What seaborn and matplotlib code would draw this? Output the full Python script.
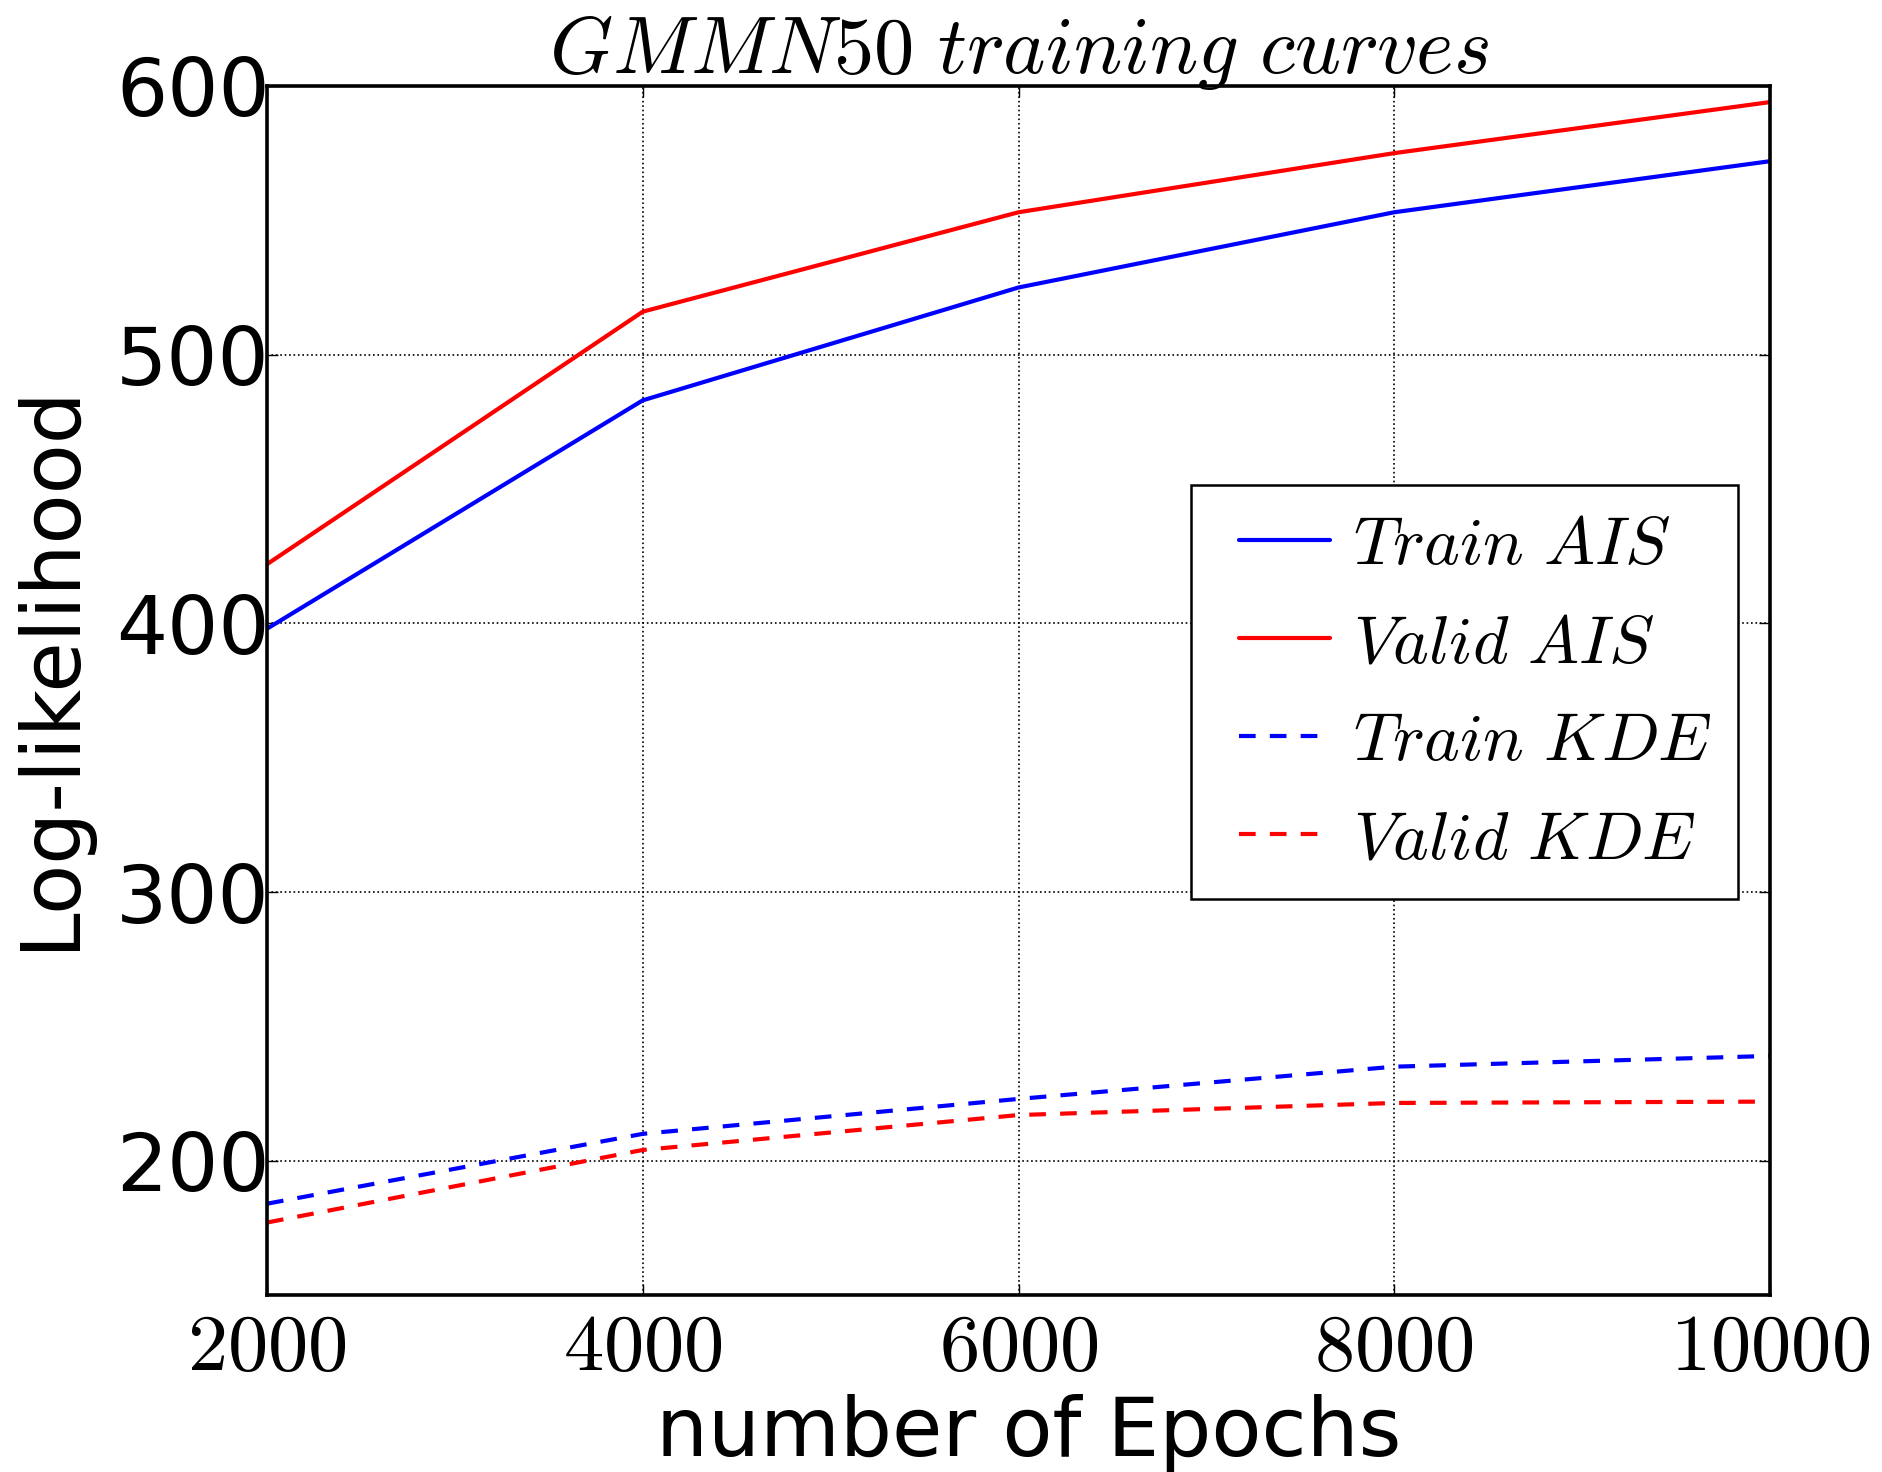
import matplotlib
matplotlib.use("Agg")
import matplotlib.pyplot as plt
import seaborn as sns
import pandas as pd
import numpy as np
from matplotlib.ticker import FuncFormatter
from matplotlib.legend_handler import HandlerLine2D
from matplotlib.lines import Line2D

epochs = [2000, 4000, 6000, 8000, 10000]
train_ais = [398, 483, 525, 553, 572]
valid_ais = [422, 516, 553, 575, 594]
train_kde = [184, 210, 223, 235, 239]
valid_kde = [177, 204, 217, 221.5, 222]
series_labels = [r"$Train\ AIS$", r"$Valid\ AIS$", r"$Train\ KDE$", r"$Valid\ KDE$"]
y_ticks = [200, 300, 400, 500, 600]

sns.set_style("white")
plt.rcParams["font.family"] = ["DejaVu Sans"]
plt.rcParams["mathtext.fontset"] = "cm"
plt.rcParams["text.color"] = "black"
plt.rcParams["axes.labelcolor"] = "black"
plt.rcParams["xtick.color"] = "black"
plt.rcParams["ytick.color"] = "black"


class ShiftedLineHandler(HandlerLine2D):
    """Draw the legend line in the right part of the handle box."""
    def create_artists(self, legend, orig_handle, xdescent, ydescent, width,
                       height, fontsize, trans):
        artists = super().create_artists(legend, orig_handle, xdescent, ydescent,
                                         width, height, fontsize, trans)
        for a in artists:
            if isinstance(a, Line2D) and a.get_linestyle() not in ("None", "none", ""):
                x0 = -xdescent
                yv = float(np.asarray(a.get_ydata())[0])
                a.set_data([x0 + 0.18 * width, x0 + width], [yv, yv])
        return artists


fig, ax = plt.subplots(figsize=(18.83, 14.72), dpi=100)
fig.subplots_adjust(left=0.1418, right=0.94, top=0.9416, bottom=0.1202)

dash = (0, (4, 3.4))
specs = [
    (train_ais, series_labels[0], "blue", "-"),
    (valid_ais, series_labels[1], "red", "-"),
    (train_kde, series_labels[2], "blue", dash),
    (valid_kde, series_labels[3], "red", dash),
]
for vals, lab, col, ls in specs:
    df = pd.DataFrame({"epoch": epochs, "ll": vals})
    sns.lineplot(data=df, x="epoch", y="ll", ax=ax, color=col, linestyle=ls,
                 linewidth=3.0, label=lab)

ax.set_xlim(2000, 10000)
ax.set_ylim(150, 600)
ax.set_xticks(epochs)
ax.set_yticks(y_ticks)
ax.xaxis.set_major_formatter(FuncFormatter(lambda v, p: r"$%d$" % int(v)))
ax.tick_params(axis="x", labelsize=58, pad=10, direction="in", length=8, width=1,
               top=True, bottom=True)
ax.tick_params(axis="y", labelsize=58, pad=-2, direction="in", length=8, width=1,
               left=True, right=True)
ax.grid(True, color="black", linestyle=":", linewidth=1.2)
for s in ax.spines.values():
    s.set_color("black")
    s.set_linewidth(2.6)

ax.set_xlabel("number of Epochs", fontsize=59)
ax.set_ylabel("Log-likelihood", fontsize=59)
ax.yaxis.set_label_coords(-0.118, 0.52)
ax.xaxis.set_label_coords(0.507, -0.082)
ax.set_title(r"$GMMN50\ training\ curves$", fontsize=58, pad=9)

leg = ax.legend(loc="upper right", bbox_to_anchor=(0.979, 0.670), borderaxespad=0,
                fontsize=49, handlelength=1.64, fancybox=False, framealpha=1,
                edgecolor="black", labelspacing=0.47, borderpad=0.4, handletextpad=0.33,
                handler_map={Line2D: ShiftedLineHandler()})
leg.get_frame().set_linewidth(1.8)

fig.savefig("out.png", dpi=100, facecolor="white")
